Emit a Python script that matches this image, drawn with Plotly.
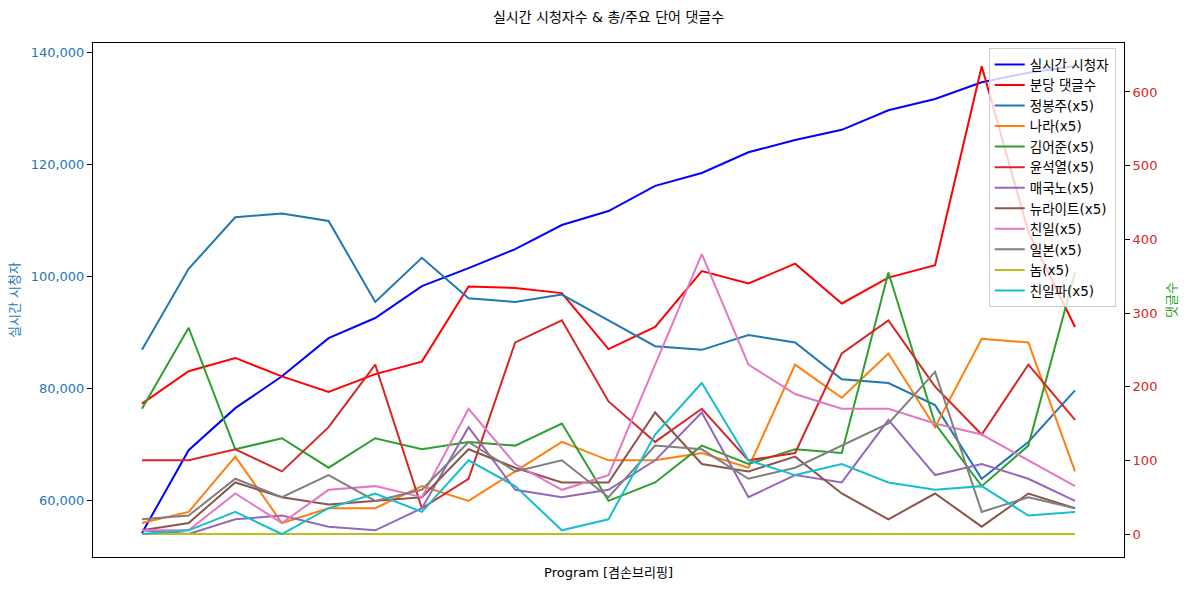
import plotly.graph_objects as go

x_idx = list(range(21))

viewers = [54100, 68900, 76400, 82100, 88900, 92500, 98200, 101400, 104800, 109100,
           111600, 116100, 118400, 122100, 124300, 126100, 129600, 131600, 134600, 136300, 137500]
comments_per_min = [177, 221, 239, 214, 193, 217, 234, 336, 334, 327, 251, 281, 357, 340,
                    367, 313, 348, 365, 635, 410, 281]

jbj = [250, 360, 430, 435, 425, 315, 375, 320, 315, 325, 290, 255, 250, 270, 260, 210, 205, 175, 75, 125, 195]
nara = [15, 30, 105, 15, 35, 35, 65, 45, 85, 125, 100, 100, 110, 90, 230, 185, 245, 145, 265, 260, 85]
kimoj = [170, 280, 115, 130, 90, 130, 115, 125, 120, 150, 45, 70, 120, 95, 115, 110, 355, 150, 65, 120, 355]
yoon = [100, 100, 115, 85, 145, 230, 35, 75, 260, 290, 180, 125, 170, 100, 110, 245, 290, 200, 135, 230, 155]
traitor = [5, 0, 20, 25, 10, 5, 35, 145, 60, 50, 60, 100, 165, 50, 80, 70, 155, 80, 95, 75, 45]
newright = [5, 15, 70, 50, 40, 45, 50, 115, 90, 70, 70, 165, 95, 85, 105, 55, 20, 55, 10, 55, 35]
projapan = [5, 5, 55, 15, 60, 65, 50, 170, 95, 60, 80, 230, 380, 230, 190, 170, 170, 150, 135, 100, 65]
japan = [20, 25, 75, 50, 80, 45, 60, 125, 85, 100, 50, 120, 115, 75, 90, 120, 150, 220, 30, 50, 35]
nom = [0] * 21
projapan_party = [0, 5, 30, 0, 35, 55, 30, 100, 65, 5, 20, 135, 205, 100, 80, 95, 70, 60, 65, 25, 30]

word_series = [
    ("정봉주(x5)", jbj, "#1f77b4"),
    ("나라(x5)", nara, "#ff7f0e"),
    ("김어준(x5)", kimoj, "#2ca02c"),
    ("윤석열(x5)", yoon, "#d62728"),
    ("매국노(x5)", traitor, "#9467bd"),
    ("뉴라이트(x5)", newright, "#8c564b"),
    ("친일(x5)", projapan, "#e377c2"),
    ("일본(x5)", japan, "#7f7f7f"),
    ("놈(x5)", nom, "#bcbd22"),
    ("친일파(x5)", projapan_party, "#17becf"),
]

FONT = "DejaVu Sans, Noto Sans CJK KR, sans-serif"

fig = go.Figure()
fig.add_trace(go.Scatter(x=x_idx, y=viewers, mode="lines", name="실시간 시청자",
                         line=dict(color="#0000ff", width=2), yaxis="y"))
fig.add_trace(go.Scatter(x=x_idx, y=comments_per_min, mode="lines", name="분당 댓글수",
                         line=dict(color="#ff0000", width=2), yaxis="y2"))
for name, vals, col in word_series:
    fig.add_trace(go.Scatter(x=x_idx, y=vals, mode="lines", name=name,
                             line=dict(color=col, width=2), yaxis="y2"))

fig.update_layout(
    width=1189, height=592,
    margin=dict(l=93, r=63, t=43, b=35),
    paper_bgcolor="white", plot_bgcolor="white",
    font=dict(family=FONT, size=13, color="black"),
    title=dict(text="실시간 시청자수 & 총/주요 단어 댓글수", x=0.5, xref="paper",
               y=1 - 17 / 592, yanchor="middle", font=dict(size=14, color="black")),
    showlegend=True,
    legend=dict(x=0.992, xanchor="right", y=0.99, yanchor="top",
                bgcolor="rgba(255,255,255,0.8)", bordercolor="#cccccc", borderwidth=1,
                font=dict(size=13.5), tracegroupgap=0, itemwidth=30),
    xaxis=dict(range=[-1.05, 21.05], showticklabels=False, ticks="", showgrid=False,
               zeroline=False, showline=True, linecolor="black", linewidth=1, mirror=True,
               title=dict(text="Program [겸손브리핑]", standoff=10, font=dict(size=13))),
    yaxis=dict(range=[49821, 141607], tickvals=[60000, 80000, 100000, 120000, 140000],
               tickformat=",", ticks="outside", ticklen=5, tickcolor="black",
               tickfont=dict(color="#1f77b4", size=13), showgrid=False, zeroline=False,
               showline=True, linecolor="black", linewidth=1,
               title=dict(text="실시간 시청자", font=dict(color="#1f77b4", size=13), standoff=8)),
    yaxis2=dict(range=[-31.2, 666.5], tickvals=[0, 100, 200, 300, 400, 500, 600],
                overlaying="y", side="right", ticks="outside", ticklen=5, tickcolor="black",
                tickfont=dict(color="#d62728", size=13), showgrid=False, zeroline=False,
                showline=True, linecolor="black", linewidth=1,
                title=dict(text="댓글수", font=dict(color="#2ca02c", size=13), standoff=10)),
)

fig.write_html("out.html")
